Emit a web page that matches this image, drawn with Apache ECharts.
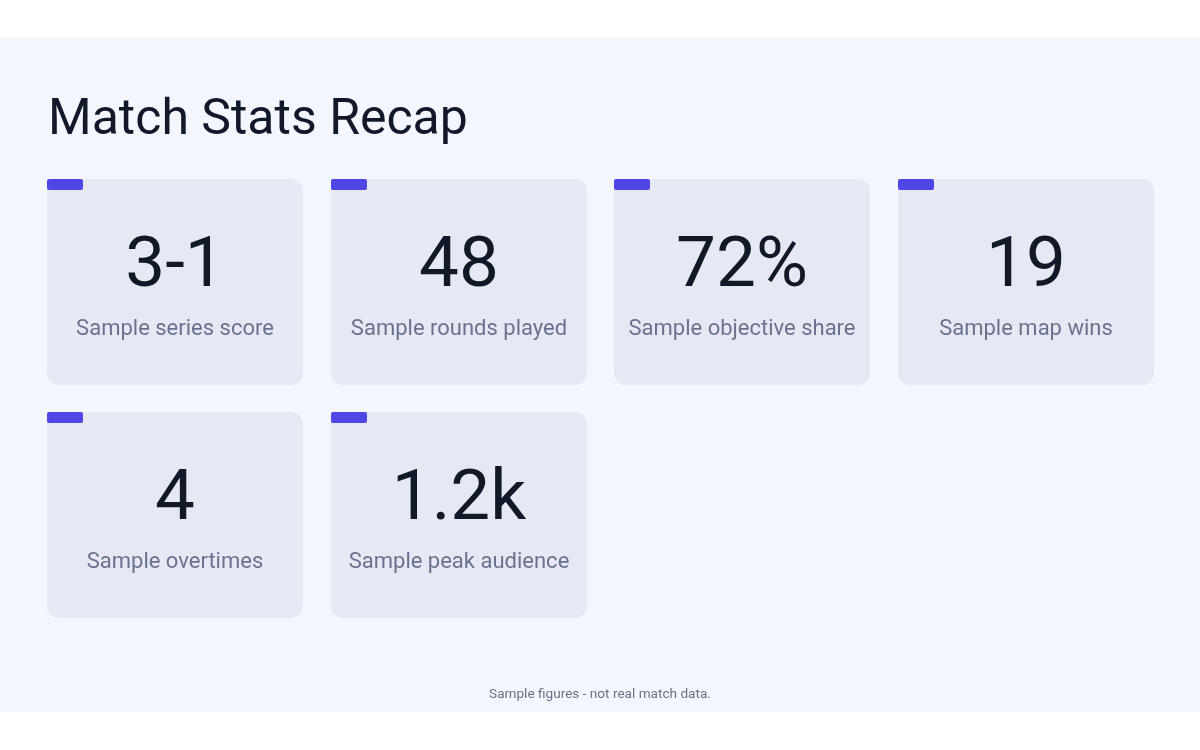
<!DOCTYPE html>
<html>
<head>
<meta charset="utf-8">
<script src="https://cdn.jsdelivr.net/npm/echarts@6/dist/echarts.min.js"></script>
<style>
html,body{margin:0;padding:0;background:#ffffff;}
#chart{width:1200px;height:750px;}
</style>
</head>
<body>
<div id="chart"></div>
<script>
var title = 'Match Stats Recap';
var kpiValues = ['3-1', '48', '72%', '19', '4', '1.2k'];
var kpiLabels = ['Sample series score', 'Sample rounds played', 'Sample objective share', 'Sample map wins', 'Sample overtimes', 'Sample peak audience'];
var footnote = 'Sample figures - not real match data.';

var chart = echarts.init(document.getElementById('chart'), null, {renderer: 'canvas'});
var FONT = 'Roboto, "Noto Sans", sans-serif';
var cols = 4, x0 = 47, y0 = 179, cw = 256, ch = 206, px = 283.7, py = 233;
var elements = [];
elements.push({type: 'rect', shape: {x: 0, y: 37, width: 1200, height: 675}, style: {fill: '#f3f6fd'}, silent: true});
elements.push({type: 'text', x: 48, y: 121, style: {text: title, fill: '#111827', font: '400 50px ' + FONT, textAlign: 'left', textVerticalAlign: 'middle'}});
kpiValues.forEach(function (v, i) {
  var c = i % cols, r = Math.floor(i / cols);
  var x = Math.round(x0 + c * px), y = y0 + r * py;
  elements.push({type: 'rect', shape: {x: x, y: y, width: cw, height: ch, r: [12, 12, 12, 12]}, style: {fill: '#e6e9f3'}});
  elements.push({type: 'rect', shape: {x: x, y: y, width: 36, height: 11, r: 2}, style: {fill: '#4f46e5'}});
  elements.push({type: 'text', x: x + cw / 2, y: y + 89, style: {text: v, fill: '#111827', font: '400 71px ' + FONT, textAlign: 'center', textVerticalAlign: 'middle'}});
  elements.push({type: 'text', x: x + cw / 2, y: y + 150, style: {text: kpiLabels[i], fill: '#6b7290', font: '400 22px ' + FONT, textAlign: 'center', textVerticalAlign: 'middle'}});
});
elements.push({type: 'text', x: 600, y: 695, style: {text: footnote, fill: '#6b7280', font: '400 13.6px ' + FONT, textAlign: 'center', textVerticalAlign: 'middle'}});

chart.setOption({
  backgroundColor: '#ffffff',
  animation: false,
  graphic: {elements: elements}
});
</script>
</body>
</html>
